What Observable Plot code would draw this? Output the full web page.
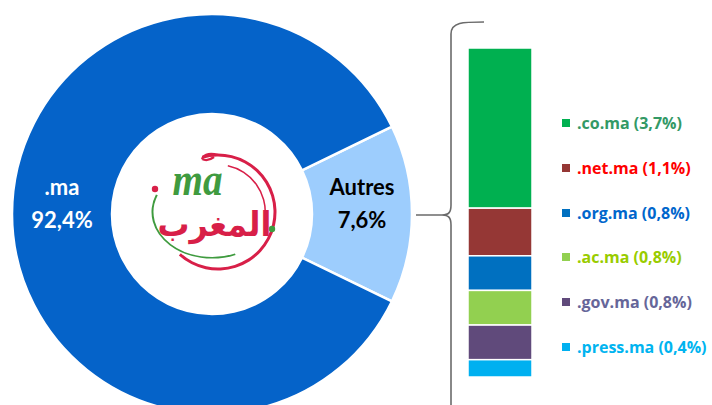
<!DOCTYPE html>
<html><head><meta charset="utf-8">
<script src="https://cdn.jsdelivr.net/npm/d3@7"></script>
<script src="https://cdn.jsdelivr.net/npm/@observablehq/plot@0.6"></script>
<style>
body{margin:0;background:#fff;}
#wrap{position:relative;width:712px;height:405px;overflow:hidden;font-family:Lato,"Open Sans",sans-serif;}
#legend{position:absolute;left:562px;top:0;}
.row{position:absolute;left:0;white-space:nowrap;font-family:"Open Sans",sans-serif;font-weight:700;font-size:16px;line-height:18px;height:18px;display:flex;align-items:center;}
.sw{width:8px;height:8px;margin-right:7px;flex:none;}
</style></head><body><div id="wrap"></div>
<script>
const donutNames = [".ma", "Autres"];
const donutLabels = ["92,4%", "7,6%"];
const donutDrawn = [85.6, 14.4]; // angular share of each slice as drawn in the picture
const otherNames = [".co.ma", ".net.ma", ".org.ma", ".ac.ma", ".gov.ma", ".press.ma"];
const otherValues = [3.7, 1.1, 0.8, 0.8, 0.8, 0.4];
const otherLabels = ["3,7%", "1,1%", "0,8%", "0,8%", "0,8%", "0,4%"];
const donutColors = ["#0563c9", "#9dcdfd"];
const otherColors = ["#00b050", "#953735", "#0070c0", "#92d050", "#604a7b", "#00b0f0"];
const legendTextColors = ["#339966", "#ff0000", "#0066cc", "#99cc00", "#666699", "#00b4f0"];
const donutTextColors = ["#ffffff", "#000000"];
const logoLatin = "ma";
const logoArabic = "المغرب";

const others = otherNames.map((name, i) => ({name, value: otherValues[i]}));
const donutData = donutNames.map((name, i) => ({name, value: donutDrawn[i], label: donutLabels[i], text: donutTextColors[i]}));

const CX = 212, CY = 214, R = 200, RI = 100;
const RED = "#d81f48", GREEN = "#3f9b3f";

function donutMark(index, scales) {
  const g = d3.create("svg:g");
  const span = 2 * Math.PI * donutDrawn[1] / d3.sum(donutDrawn);
  const a0 = Math.PI / 2 - span / 2;
  const pie = d3.pie().sort(null).value(d => d.value).startAngle(a0).endAngle(a0 + 2 * Math.PI);
  const arcs = pie([donutData[1], donutData[0]]);
  const arc = d3.arc().innerRadius(RI).outerRadius(R);
  const gg = g.append("g").attr("transform", `translate(${CX},${CY})`);
  gg.selectAll("path.slice").data(arcs).join("path")
    .attr("d", arc).attr("fill", d => scales.color(d.data.name))
    .attr("stroke", "#fff").attr("stroke-width", 2.5);
  const labArc = d3.arc().innerRadius((R + RI) / 2).outerRadius((R + RI) / 2);
  arcs.forEach(d => {
    const [x, y] = labArc.centroid(d);
    const t = gg.append("text").attr("text-anchor", "middle")
      .attr("font-family", "Lato, 'Open Sans', sans-serif").attr("font-weight", 700)
      .attr("font-size", 22).attr("fill", d.data.text);
    t.append("tspan").attr("x", x).attr("y", y - 19).text(d.data.name);
    t.append("tspan").attr("x", x).attr("y", y + 14).text(d.data.label);
  });
  // logo
  const band = (r0, r1, s, e) => d3.arc().innerRadius(r0).outerRadius(r1).startAngle(s * Math.PI / 180).endAngle(e * Math.PI / 180)();
  const red = gg.append("g").attr("transform", "translate(6,-2)");
  red.append("path").attr("d", band(55.5, 58.5, -16, 222)).attr("fill", RED);
  red.append("path").attr("d", band(46.5, 48, 12, 96)).attr("fill", RED);
  gg.append("path").attr("d", "M-10,-55 C-8,-61 0,-61 6,-59 M-10,-55 C-6,-53 -2,-54 2,-57")
    .attr("stroke", RED).attr("stroke-width", 2.2).attr("fill", "none");
  const green = gg.append("g").attr("transform", "translate(0,-2) scale(1,0.77)");
  green.append("path").attr("d", band(58.5, 60.5, 157, 292)).attr("fill", GREEN);
  gg.append("circle").attr("cx", -57).attr("cy", -25).attr("r", 3.2).attr("fill", RED);
  gg.append("circle").attr("cx", 60).attr("cy", 15).attr("r", 3.2).attr("fill", GREEN);
  gg.append("text").attr("x", -14.5).attr("y", -19).attr("text-anchor", "middle")
    .attr("font-family", "'Liberation Serif', serif")
    .attr("font-style", "italic").attr("font-weight", 700).attr("font-size", 46)
    .attr("textLength", 50).attr("lengthAdjust", "spacingAndGlyphs")
    .attr("fill", GREEN).text(logoLatin);
  gg.append("text").attr("x", 2.5).attr("y", 22).attr("text-anchor", "middle")
    .attr("font-family", "'DejaVu Sans', sans-serif")
    .attr("font-weight", 700).attr("font-size", 34)
    .attr("textLength", 114).attr("lengthAdjust", "spacingAndGlyphs")
    .attr("fill", RED).text(logoArabic);
  return g.node();
}

function braceMark(index, scales) {
  const g = d3.create("svg:g");
  const bx = scales.x("b") - 17;
  const top = scales.y(d3.sum(otherValues)) - 26;
  const mid = CY + 1;
  const tip = CX + R + 4;
  g.append("path")
    .attr("d", `M${bx + 33},${top} C${bx + 12},${top} ${bx},${top} ${bx},${top + 12} L${bx},${mid - 10} C${bx},${mid - 3} ${bx - 2},${mid} ${bx - 9},${mid} L${tip},${mid} M${bx - 9},${mid} C${bx - 2},${mid} ${bx},${mid + 3} ${bx},${mid + 10} L${bx},${420}`)
    .attr("fill", "none").attr("stroke", "#6b6b6b").attr("stroke-width", 1.6);
  return g.node();
}

const chart = Plot.plot({
  width: 712, height: 405,
  margin: 0,
  style: {background: "#fff"},
  x: {type: "band", domain: ["b"], range: [468, 532], padding: 0, axis: null},
  y: {domain: [0, d3.sum(otherValues)], range: [377, 48], axis: null},
  color: {domain: [...donutNames, ...otherNames], range: [...donutColors, ...otherColors]},
  marks: [
    donutMark,
    braceMark,
    Plot.barY(others, Plot.stackY({x: () => "b", y: "value", fill: "name", stroke: "#fff", strokeWidth: 1.5, reverse: true}))
  ]
});
const wrap = document.getElementById("wrap");
wrap.appendChild(chart);
const legend = document.createElement("div");
legend.id = "legend";
otherNames.forEach((n, i) => {
  const row = document.createElement("div");
  row.className = "row";
  row.style.top = (123 + i * 44.8 - 9) + "px";
  row.style.color = legendTextColors[i];
  const sw = document.createElement("span");
  sw.className = "sw";
  sw.style.background = otherColors[i];
  row.appendChild(sw);
  row.appendChild(document.createTextNode(`${n} (${otherLabels[i]})`));
  legend.appendChild(row);
});
wrap.appendChild(legend);
</script></body></html>
